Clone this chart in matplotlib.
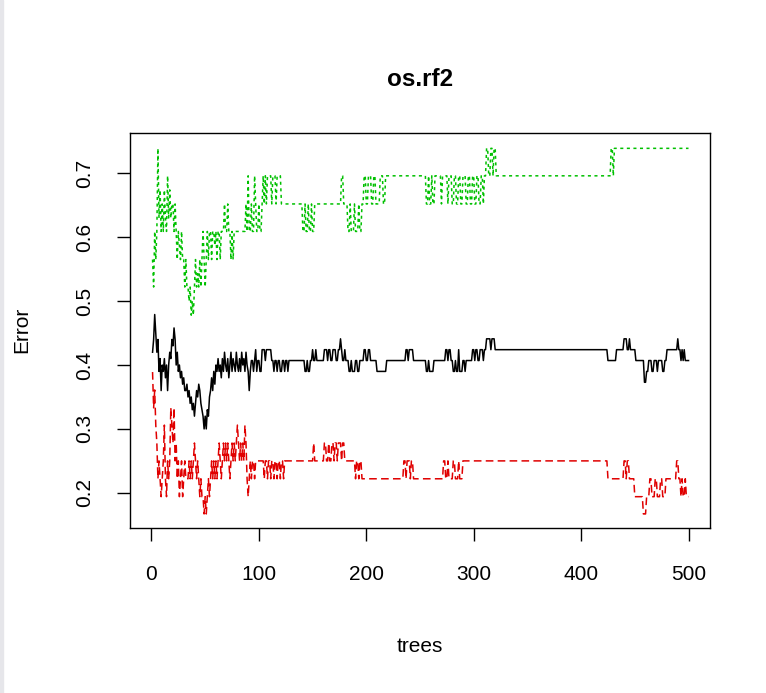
import numpy as np
import matplotlib.pyplot as plt

plt.rcParams['font.family'] = ['Liberation Sans', 'DejaVu Sans']

ntree = 500

# OOB error: (first tree of run, error)
oob_start = [1, 2, 3, 4, 5, 6, 7, 8, 9, 10, 11, 12, 13, 14, 15, 16, 17, 18, 19, 20,
             21, 22, 23, 24, 25, 26, 27, 28, 29, 30, 31, 33, 34, 35, 36, 37, 38, 39, 40, 41,
             42, 43, 44, 45, 46, 47, 48, 49, 50, 51, 52, 53, 54, 55, 56, 57, 58, 59, 60, 61,
             62, 63, 64, 65, 66, 67, 68, 69, 70, 71, 72, 73, 74, 75, 76, 77, 78, 79, 80, 81,
             82, 83, 84, 85, 86, 87, 88, 89, 90, 91, 92, 93, 95, 96, 97, 98, 99, 101, 103, 106,
             107, 112, 114, 115, 117, 118, 120, 122, 124, 125, 127, 128, 143, 145, 146, 148, 150, 151, 153, 154,
             161, 164, 165, 167, 169, 172, 174, 176, 177, 178, 180, 181, 184, 186, 187, 190, 192, 194, 198, 200,
             202, 204, 210, 219, 237, 239, 240, 244, 256, 258, 259, 263, 274, 276, 277, 279, 281, 283, 284, 286,
             287, 290, 292, 293, 299, 301, 302, 304, 306, 309, 310, 312, 316, 317, 320, 425, 433, 440, 443, 445,
             446, 451, 459, 461, 463, 466, 468, 471, 472, 476, 478, 480, 490, 491, 493, 494, 495, 496, 497]
oob_err = [0.42, 0.44, 0.479, 0.45, 0.42, 0.44, 0.39, 0.41, 0.36, 0.40, 0.39, 0.41, 0.38, 0.40, 0.36, 0.40, 0.42, 0.41, 0.44, 0.43,
           0.458, 0.44, 0.40, 0.42, 0.39, 0.40, 0.38, 0.39, 0.37, 0.38, 0.36, 0.37, 0.35, 0.36, 0.34, 0.35, 0.33, 0.34, 0.32, 0.34,
           0.36, 0.35, 0.37, 0.36, 0.34, 0.33, 0.32, 0.30, 0.32, 0.30, 0.33, 0.32, 0.35, 0.36, 0.38, 0.36, 0.39, 0.37, 0.40, 0.39,
           0.41, 0.39, 0.40, 0.38, 0.41, 0.39, 0.42, 0.40, 0.39, 0.41, 0.38, 0.40, 0.42, 0.39, 0.41, 0.40, 0.39, 0.42, 0.40, 0.39,
           0.41, 0.39, 0.42, 0.40, 0.41, 0.39, 0.42, 0.40, 0.39, 0.36, 0.39, 0.407, 0.39, 0.407, 0.424, 0.39, 0.407, 0.39, 0.424, 0.407,
           0.424, 0.407, 0.39, 0.407, 0.39, 0.407, 0.39, 0.407, 0.39, 0.407, 0.39, 0.407, 0.39, 0.407, 0.39, 0.407, 0.424, 0.407, 0.424, 0.407,
           0.424, 0.407, 0.424, 0.407, 0.424, 0.407, 0.424, 0.441, 0.424, 0.407, 0.424, 0.407, 0.39, 0.407, 0.39, 0.407, 0.39, 0.407, 0.424, 0.407,
           0.424, 0.407, 0.39, 0.407, 0.424, 0.407, 0.424, 0.407, 0.39, 0.407, 0.39, 0.407, 0.424, 0.407, 0.424, 0.407, 0.39, 0.407, 0.39, 0.424,
           0.39, 0.407, 0.39, 0.407, 0.424, 0.407, 0.424, 0.407, 0.424, 0.407, 0.424, 0.441, 0.424, 0.441, 0.424, 0.407, 0.424, 0.441, 0.424, 0.441,
           0.424, 0.407, 0.373, 0.39, 0.407, 0.39, 0.407, 0.39, 0.407, 0.39, 0.407, 0.424, 0.441, 0.424, 0.407, 0.424, 0.407, 0.424, 0.407]

# class 1 error (red, dashed)
cls1_start = [1, 2, 3, 4, 5, 6, 7, 8, 9, 10, 11, 12, 13, 14, 15, 16, 17, 18, 19, 20,
              21, 22, 23, 24, 25, 26, 27, 28, 29, 30, 31, 32, 35, 36, 37, 38, 39, 40, 41, 42,
              43, 44, 45, 46, 47, 49, 50, 51, 52, 53, 54, 55, 56, 57, 58, 59, 60, 61, 62, 63,
              64, 65, 66, 67, 68, 69, 70, 71, 72, 73, 74, 75, 76, 77, 78, 79, 80, 81, 82, 83,
              84, 85, 86, 87, 88, 89, 90, 91, 92, 93, 94, 96, 97, 105, 106, 108, 109, 111, 112, 114,
              115, 117, 118, 120, 121, 123, 124, 151, 152, 161, 163, 165, 166, 168, 170, 171, 173, 174, 177, 178,
              180, 190, 191, 193, 194, 196, 235, 237, 238, 241, 242, 244, 272, 274, 276, 277, 281, 283, 286, 287,
              290, 425, 440, 442, 443, 445, 450, 458, 461, 464, 466, 469, 471, 474, 476, 479, 489, 491, 493, 494,
              495, 497, 498]
cls1_err = [0.389, 0.333, 0.361, 0.306, 0.278, 0.222, 0.25, 0.222, 0.194, 0.222, 0.25, 0.306, 0.222, 0.194, 0.25, 0.222, 0.25, 0.333, 0.306, 0.278,
            0.333, 0.25, 0.278, 0.222, 0.25, 0.194, 0.222, 0.25, 0.194, 0.222, 0.25, 0.222, 0.25, 0.222, 0.25, 0.222, 0.25, 0.278, 0.25, 0.222,
            0.25, 0.222, 0.194, 0.222, 0.194, 0.167, 0.194, 0.167, 0.194, 0.222, 0.194, 0.222, 0.25, 0.222, 0.25, 0.222, 0.25, 0.222, 0.25, 0.278,
            0.25, 0.222, 0.25, 0.278, 0.25, 0.278, 0.25, 0.278, 0.25, 0.222, 0.25, 0.278, 0.25, 0.278, 0.25, 0.278, 0.306, 0.278, 0.25, 0.278,
            0.25, 0.278, 0.25, 0.306, 0.278, 0.222, 0.194, 0.222, 0.25, 0.222, 0.25, 0.222, 0.25, 0.222, 0.25, 0.222, 0.25, 0.222, 0.25, 0.222,
            0.25, 0.222, 0.25, 0.222, 0.25, 0.222, 0.25, 0.278, 0.25, 0.278, 0.25, 0.278, 0.25, 0.278, 0.25, 0.278, 0.25, 0.278, 0.25, 0.278,
            0.25, 0.222, 0.25, 0.222, 0.25, 0.222, 0.25, 0.222, 0.25, 0.222, 0.25, 0.222, 0.25, 0.222, 0.25, 0.222, 0.25, 0.222, 0.25, 0.222,
            0.25, 0.222, 0.25, 0.222, 0.25, 0.222, 0.194, 0.167, 0.194, 0.222, 0.194, 0.222, 0.194, 0.222, 0.194, 0.222, 0.25, 0.222, 0.194, 0.222,
            0.194, 0.222, 0.194]

# class 2 error (green, dotted)
cls2_start = [1, 2, 3, 4, 5, 6, 7, 8, 9, 10, 11, 12, 13, 14, 15, 16, 17, 18, 19, 21,
              22, 23, 24, 25, 26, 27, 28, 29, 31, 32, 33, 35, 36, 37, 38, 39, 40, 41, 42, 43,
              44, 45, 46, 47, 48, 49, 50, 51, 52, 53, 54, 56, 57, 59, 60, 61, 62, 64, 65, 68,
              69, 71, 72, 74, 75, 76, 77, 88, 89, 90, 91, 93, 94, 96, 97, 98, 100, 101, 103, 104,
              105, 106, 107, 108, 112, 113, 116, 117, 121, 141, 143, 144, 146, 147, 149, 150, 152, 177, 179, 183,
              185, 186, 189, 190, 193, 194, 196, 198, 200, 202, 205, 207, 209, 213, 216, 218, 256, 258, 259, 261,
              262, 264, 270, 271, 276, 277, 280, 282, 284, 286, 288, 290, 293, 295, 297, 299, 301, 303, 305, 307,
              309, 310, 312, 314, 316, 318, 319, 321, 428, 430, 431]
cls2_err = [0.565, 0.522, 0.609, 0.565, 0.609, 0.739, 0.630, 0.674, 0.609, 0.652, 0.609, 0.674, 0.630, 0.609, 0.696, 0.630, 0.674, 0.630, 0.652, 0.609,
            0.652, 0.609, 0.565, 0.609, 0.587, 0.565, 0.609, 0.565, 0.522, 0.565, 0.522, 0.500, 0.522, 0.478, 0.500, 0.478, 0.522, 0.565, 0.522, 0.543,
            0.522, 0.565, 0.522, 0.565, 0.609, 0.565, 0.522, 0.565, 0.609, 0.565, 0.609, 0.565, 0.609, 0.587, 0.609, 0.565, 0.609, 0.565, 0.609, 0.652,
            0.609, 0.652, 0.609, 0.565, 0.609, 0.565, 0.609, 0.652, 0.609, 0.696, 0.609, 0.652, 0.609, 0.696, 0.652, 0.609, 0.652, 0.609, 0.652, 0.696,
            0.652, 0.696, 0.652, 0.696, 0.652, 0.696, 0.652, 0.696, 0.652, 0.609, 0.652, 0.609, 0.652, 0.609, 0.652, 0.609, 0.652, 0.696, 0.652, 0.609,
            0.652, 0.609, 0.652, 0.609, 0.652, 0.609, 0.652, 0.696, 0.652, 0.696, 0.652, 0.696, 0.652, 0.696, 0.652, 0.696, 0.652, 0.696, 0.652, 0.696,
            0.652, 0.696, 0.652, 0.696, 0.652, 0.696, 0.652, 0.696, 0.652, 0.696, 0.652, 0.696, 0.652, 0.696, 0.652, 0.696, 0.652, 0.696, 0.652, 0.696,
            0.652, 0.696, 0.739, 0.696, 0.739, 0.696, 0.739, 0.696, 0.739, 0.696, 0.739]


def expand(starts, vals):
    lengths = np.diff(np.append(starts, ntree + 1))
    return np.repeat(vals, lengths)


trees = np.arange(1, ntree + 1)
oob = expand(oob_start, oob_err)
cls1 = expand(cls1_start, cls1_err)
cls2 = expand(cls2_start, cls2_err)

fig = plt.figure(figsize=(7.66, 6.93), dpi=100)
ax = fig.add_axes([130/766, 165/693, 580/766, 395/693])

ax.plot(trees, oob, color='black', lw=1.1)
ax.plot(trees, cls1, color='#E00000', lw=1.1, linestyle=(0, (5, 2.8)))
ax.plot(trees, cls2, color='#00C000', lw=1.1, linestyle=(0, (2, 2.3)))

ax.set_xlim(-20, 520)
ax.set_ylim(0.145, 0.763)
ax.set_xticks([0, 100, 200, 300, 400, 500])
ax.set_yticks([0.2, 0.3, 0.4, 0.5, 0.6, 0.7])
ax.set_yticklabels(['0.2', '0.3', '0.4', '0.5', '0.6', '0.7'], rotation=90, va='center')
ax.tick_params(length=9.5, width=1, labelsize=15, direction='out')
ax.tick_params(axis='x', pad=17)
ax.tick_params(axis='y', pad=16)
for s in ax.spines.values():
    s.set_linewidth(1)

fig.text(420/766, 1 - 80/693, 'os.rf2', ha='center', va='center', fontsize=17.5, fontweight='bold')
fig.text(420/766, 1 - 647/693, 'trees', ha='center', va='center', fontsize=15)
fig.text(22/766, 1 - 330/693, 'Error', ha='center', va='center', fontsize=15, rotation=90)

# grey screenshot edge on the left
fig.patches.append(plt.Rectangle((0, 0), 3/766, 1, transform=fig.transFigure,
                                 color='#e6e6ea', zorder=0))

fig.savefig('out.png', dpi=100)
